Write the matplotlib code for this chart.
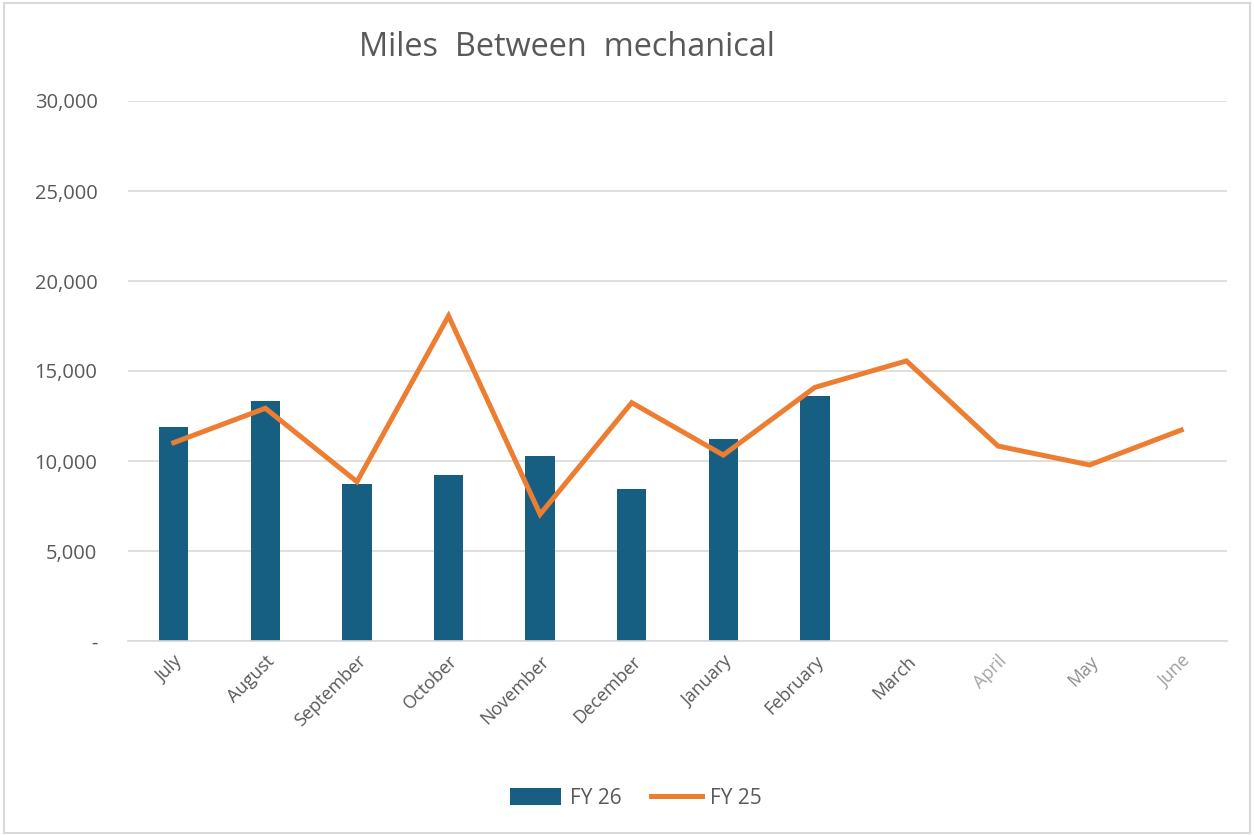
import matplotlib.pyplot as plt
import numpy as np
from matplotlib.patches import Rectangle
from matplotlib.ticker import FuncFormatter

months = ['July', 'August', 'September', 'October', 'November', 'December',
          'January', 'February', 'March', 'April', 'May', 'June']
fy26 = [11900, 13350, 8720, 9220, 10300, 8450, 11220, 13630]
fy25 = [11020, 12930, 8850, 18060, 7040, 13240, 10330, 14090,
        15560, 10830, 9780, 11720]
label_colors = ['#595959'] * 9 + ['#a6a6a6', '#8c8c8c', '#a0a0a0']

plt.rcParams['font.family'] = ['Open Sans', 'DejaVu Sans']

fig = plt.figure(figsize=(12.54, 8.35), dpi=100)
ax = fig.add_axes([128 / 1254, 194 / 835, 1099 / 1254, 540 / 835])

x = np.arange(len(months))
ax.bar(x[:len(fy26)], fy26, width=0.32, color='#175f82', label='FY 26', zorder=2)
ax.plot(x, fy25, color='#ed7d31', linewidth=3.6, label='FY 25', zorder=3,
        solid_joinstyle='miter')

ax.set_xlim(-0.5, len(months) - 0.5)
ax.set_ylim(0, 30000)
ax.set_yticks(np.arange(0, 30001, 5000))
ax.yaxis.set_major_formatter(FuncFormatter(lambda v, p: '-' if v == 0 else f'{int(v):,}'))
ax.grid(axis='y', color='#d9d9d9', linewidth=1.2, zorder=0)
ax.set_axisbelow(True)
for s in ['top', 'right', 'left']:
    ax.spines[s].set_visible(False)
ax.spines['bottom'].set_color('#d9d9d9')
ax.spines['bottom'].set_linewidth(1.2)
ax.tick_params(axis='y', length=0, pad=22, labelsize=14.5, labelcolor='#595959')
ax.tick_params(axis='x', length=0, pad=8, labelsize=13)

ax.set_xticks(x)
ax.set_xticklabels(months, rotation=45, ha='right', va='top', rotation_mode='anchor')
for lbl, c in zip(ax.get_xticklabels(), label_colors):
    lbl.set_color(c)

fig.text(567 / 1254, 1 - 47 / 835, 'Miles  Between  mechanical', ha='center', va='center',
         fontsize=23.4, color='#595959')

h, l = ax.get_legend_handles_labels()
order = [l.index('FY 26'), l.index('FY 25')]
fig.legend([h[i] for i in order], [l[i] for i in order], loc='center',
           bbox_to_anchor=(636 / 1254, 1 - 798 / 835), ncol=2, frameon=False,
           fontsize=15, labelcolor='#595959', handlelength=2.45, handleheight=0.9,
           columnspacing=1.4, handletextpad=0.4)

fig.patches.append(Rectangle((4 / 1254, 2 / 835), 1246 / 1254, 830 / 835, transform=fig.transFigure,
                             fill=False, edgecolor='#d9d9d9', linewidth=1.5))

fig.savefig('out.png', dpi=100)
